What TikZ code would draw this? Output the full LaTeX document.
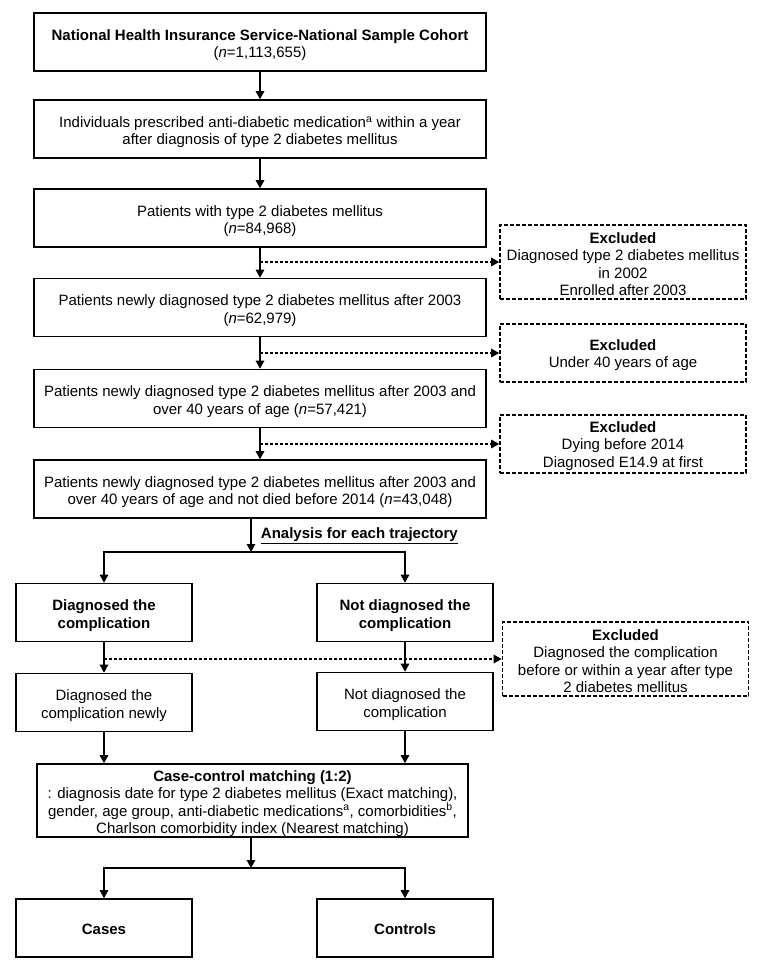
\documentclass[tikz,border=0pt]{standalone}
\usepackage{fontspec}
\setmainfont{Liberation Sans}
\usetikzlibrary{arrows.meta, positioning}

\tikzset{
    frame/.style={draw, line width=1.6pt, align=flush center, inner sep=0pt, minimum height=58pt, font=\fontsize{15}{17.2}\selectfont},
    box/.style={frame, minimum width=452pt, text width=446pt, execute at begin node={\rule{0pt}{17pt}}},
    smallbox/.style={frame, minimum width=176pt, text width=170pt, execute at begin node={\rule{0pt}{17pt}}},
    endbox/.style={frame, minimum width=176pt, text width=170pt, execute at begin node={\rule{0pt}{13pt}}},
    excl/.style={frame, dash pattern=on 4pt off 2pt, minimum width=246pt, text width=240pt, execute at begin node={\rule{0pt}{15pt}}},
    arr/.style={-{Triangle[length=8pt,width=8.5pt]}, line width=1.3pt},
    dasharr/.style={arr, line width=1.5pt, dash pattern=on 3pt off 2pt}
}

\begin{document}
\begin{tikzpicture}[x=1pt, y=-1pt]
    \useasboundingbox (0,0) rectangle (774,973);
    \node[box] (cohort) at (260,42) {\textbf{National Health Insurance Service-National Sample Cohort}\\(\textit{n}=1,113,655)};
    \node[box] (presc) at (260,129) {Individuals prescribed anti-diabetic medication\textsuperscript{a} within a year\\after diagnosis of type 2 diabetes mellitus};
    \node[box] (dm) at (260,218) {Patients with type 2 diabetes mellitus\\(\textit{n}=84,968)};
    \node[box] (newdm) at (260,307.5) {Patients newly diagnosed type 2 diabetes mellitus after 2003\\(\textit{n}=62,979)};
    \node[box] (over40) at (260,398.5) {Patients newly diagnosed type 2 diabetes mellitus after 2003 and\\over 40 years of age (\textit{n}=57,421)};
    \node[box] (alive) at (260,489) {Patients newly diagnosed type 2 diabetes mellitus after 2003 and\\over 40 years of age and not died before 2014 (\textit{n}=43,048)};

    \node[excl, minimum height=74pt] (excl1) at (623,262) {\textbf{Excluded}\\Diagnosed type 2 diabetes mellitus\\in 2002\\Enrolled after 2003};
    \node[excl] (excl2) at (623,353) {\textbf{Excluded}\\Under 40 years of age};
    \node[excl] (excl3) at (623,444) {\textbf{Excluded}\\Dying before 2014\\Diagnosed E14.9 at first};
    \node[excl, minimum height=74pt] (excl4) at (625.5,659) {\textbf{Excluded}\\Diagnosed the complication\\before or within a year after type\\2 diabetes mellitus};

    \node[smallbox] (comp) at (104,612.5) {\textbf{Diagnosed the}\\\textbf{complication}};
    \node[smallbox] (nocomp) at (405,612.5) {\textbf{Not diagnosed the}\\\textbf{complication}};
    \node[smallbox] (compnew) at (104,702.5) {Diagnosed the\\complication newly};
    \node[smallbox] (nocompnew) at (405,701.5) {Not diagnosed the\\complication};
    \node[box, minimum width=431pt, text width=427pt, minimum height=73pt] (match) at (252.5,800.5) {\textbf{Case-control matching (1:2)}\\: diagnosis date for type 2 diabetes mellitus (Exact matching),\\gender, age group, anti-diabetic medications\textsuperscript{a}, comorbidities\textsuperscript{b},\\Charlson comorbidity index (Nearest matching)};
    \node[endbox] (cases) at (104,928) {\textbf{Cases}};
    \node[endbox] (controls) at (405,928) {\textbf{Controls}};

    \draw[arr] (cohort) -- (presc);
    \draw[arr] (presc) -- (dm);
    \draw[arr] (dm) -- (newdm);
    \draw[arr] (newdm) -- (over40);
    \draw[arr] (over40) -- (alive);
    \draw[dasharr] (dm.south |- excl1.west) -- (excl1.west);
    \draw[dasharr] (newdm.south |- excl2.west) -- (excl2.west);
    \draw[dasharr] (over40.south |- excl3.west) -- (excl3.west);

    \coordinate (split1) at (251,552);
    \draw[arr] (alive.south -| split1) -- node[right=6pt, font=\fontsize{15}{17.2}\selectfont\bfseries] {\underline{Analysis for each trajectory}} (split1);
    \draw[arr] (split1) -| (comp);
    \draw[arr] (split1) -| (nocomp);
    \draw[arr] (comp) -- (compnew);
    \draw[arr] (nocomp) -- (nocompnew);
    \draw[dasharr] (comp.south |- excl4.west) -- (excl4.west);
    \draw[arr] (compnew) -- (compnew |- match.north);
    \draw[arr] (nocompnew) -- (nocompnew |- match.north);

    \coordinate (split2) at (251,868);
    \draw[arr] (match.south -| split2) -- (split2);
    \draw[arr] (split2) -| (cases);
    \draw[arr] (split2) -| (controls);
\end{tikzpicture}
\end{document}
